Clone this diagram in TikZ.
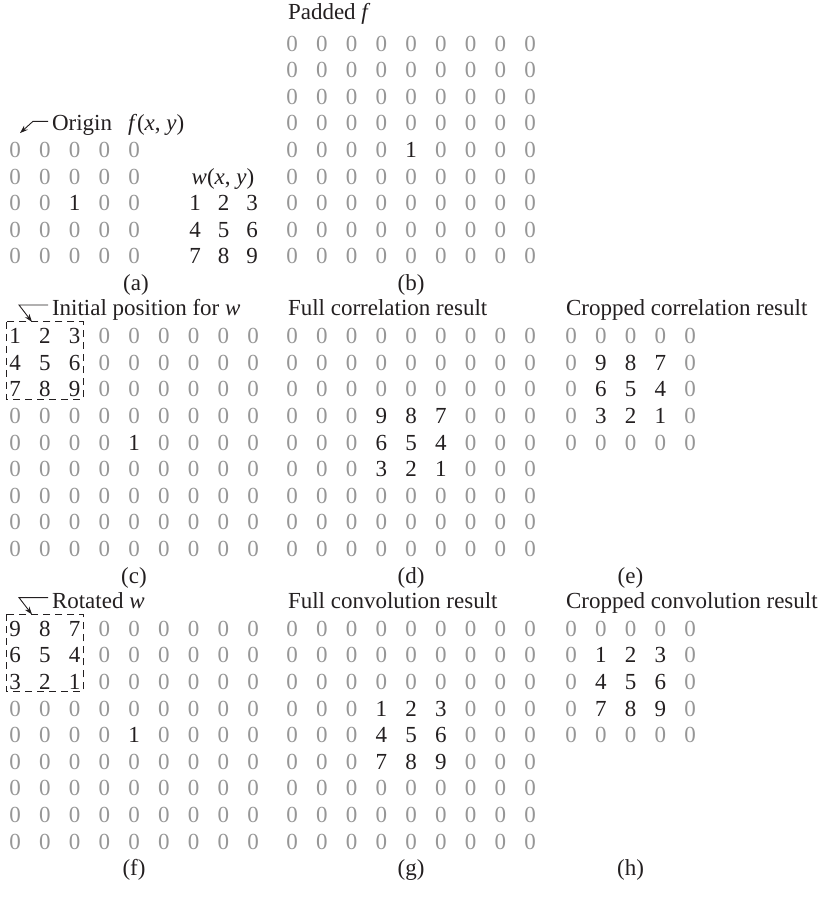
\documentclass[tikz,border=0pt]{standalone}
\usepackage{fontspec}
\setmainfont{Liberation Serif}
\usetikzlibrary{arrows.meta,calc}
\definecolor{zerogray}{RGB}{150,150,150}
\definecolor{ink}{RGB}{35,31,32}
\newcommand{\LY}[1]{(43+26.6*(#1)+8)}
\newcommand{\mrow}[5][29.75]{%
  \foreach \v [count=\c from 0] in {#5}{%
    \ifnum\v=0\relax\def\mycl{zerogray}\else\def\mycl{ink}\fi
    \node[cell,text=\mycl] (#2-\c) at ({#3+\c*#1},{#4}) {\v};
  }}
\begin{document}
\begin{tikzpicture}[x=1bp,y=-1bp,
  every node/.style={inner sep=0pt, outer sep=0pt, font=\fontsize{23bp}{28bp}\selectfont, text=ink},
  cell/.style={anchor=base},
  hdr/.style={anchor=base west},
  capn/.style={anchor=base},
  arr/.style={draw=ink, line width=0.9bp, -{Stealth[length=8bp,width=5.5bp]}},
  dashbox/.style={draw=ink, line width=1bp, dash pattern=on 7bp off 5bp},
]
\useasboundingbox (0,0) rectangle (820,900);

% ---------- (a) ----------
\node[hdr] (origin) at (52,{\LY{3}}) {Origin};
\node[hdr] (fxy) at (128,{\LY{3}}) {\textit{f}(\textit{x}, \textit{y})};
\mrow{a-0}{15}{\LY{4}}{0,0,0,0,0}
\mrow{a-1}{15}{\LY{5}}{0,0,0,0,0}
\mrow{a-2}{15}{\LY{6}}{0,0,1,0,0}
\mrow{a-3}{15}{\LY{7}}{0,0,0,0,0}
\mrow{a-4}{15}{\LY{8}}{0,0,0,0,0}
\node[capn] (wxy) at (223,{\LY{5}}) {\textit{w}(\textit{x}, \textit{y})};
\mrow[28.5]{w-0}{195}{\LY{6}}{1,2,3}
\mrow[28.5]{w-1}{195}{\LY{7}}{4,5,6}
\mrow[28.5]{w-2}{195}{\LY{8}}{7,8,9}
\coordinate (otip) at ($(a-0-0.north)+(5,-9)$);
\draw[arr] ($(origin.base west)+(-4,-9.5)$) -- ++(-15,0) -- (otip);
\node[capn] (capa) at (136,{\LY{9}}) {(a)};

% ---------- (b) ----------
\node[hdr] (padded) at (288,19) {Padded \textit{f}};
\foreach \r in {0,...,8}{
  \ifnum\r=4
    \mrow{b-\r}{292}{\LY{\r}}{0,0,0,0,1,0,0,0,0}
  \else
    \mrow{b-\r}{292}{\LY{\r}}{0,0,0,0,0,0,0,0,0}
  \fi
}
\node[capn] (capb) at (411,{\LY{9}}) {(b)};

% ---------- (c) ----------
\node[hdr] (initw) at (52,{\LY{10}-1.5}) {Initial position for \textit{w}};
\mrow{c-0}{15}{\LY{11}}{1,2,3,0,0,0,0,0,0}
\mrow{c-1}{15}{\LY{12}}{4,5,6,0,0,0,0,0,0}
\mrow{c-2}{15}{\LY{13}}{7,8,9,0,0,0,0,0,0}
\mrow{c-3}{15}{\LY{14}}{0,0,0,0,0,0,0,0,0}
\mrow{c-4}{15}{\LY{15}}{0,0,0,0,1,0,0,0,0}
\mrow{c-5}{15}{\LY{16}}{0,0,0,0,0,0,0,0,0}
\mrow{c-6}{15}{\LY{17}}{0,0,0,0,0,0,0,0,0}
\mrow{c-7}{15}{\LY{18}}{0,0,0,0,0,0,0,0,0}
\mrow{c-8}{15}{\LY{19}}{0,0,0,0,0,0,0,0,0}
\draw[dashbox] ($(c-0-0.north west)+(-3,-6.5)$) rectangle ($(c-2-2.south east)+(3,2)$);
\coordinate (itip) at ($(c-0-0.north)+(17,-6.5)$);
\draw[arr] ($(initw.base west)+(-4,-10.5)$) -- ++(-29,0) -- (itip);
\node[capn] (capc) at (134,{\LY{20}}) {(c)};

% ---------- (d) ----------
\node[hdr] (fullcor) at (288,{\LY{10}-1.5}) {Full correlation result};
\mrow{d-0}{292}{\LY{11}}{0,0,0,0,0,0,0,0,0}
\mrow{d-1}{292}{\LY{12}}{0,0,0,0,0,0,0,0,0}
\mrow{d-2}{292}{\LY{13}}{0,0,0,0,0,0,0,0,0}
\mrow{d-3}{292}{\LY{14}}{0,0,0,9,8,7,0,0,0}
\mrow{d-4}{292}{\LY{15}}{0,0,0,6,5,4,0,0,0}
\mrow{d-5}{292}{\LY{16}}{0,0,0,3,2,1,0,0,0}
\mrow{d-6}{292}{\LY{17}}{0,0,0,0,0,0,0,0,0}
\mrow{d-7}{292}{\LY{18}}{0,0,0,0,0,0,0,0,0}
\mrow{d-8}{292}{\LY{19}}{0,0,0,0,0,0,0,0,0}
\node[capn] (capd) at (411,{\LY{20}}) {(d)};

% ---------- (e) ----------
\node[hdr] (cropcor) at (566,{\LY{10}-1.5}) {Cropped correlation result};
\mrow{e-0}{571}{\LY{11}}{0,0,0,0,0}
\mrow{e-1}{571}{\LY{12}}{0,9,8,7,0}
\mrow{e-2}{571}{\LY{13}}{0,6,5,4,0}
\mrow{e-3}{571}{\LY{14}}{0,3,2,1,0}
\mrow{e-4}{571}{\LY{15}}{0,0,0,0,0}
\node[capn] (cape) at (630.5,{\LY{20}}) {(e)};

% ---------- (f) ----------
\node[hdr] (rotw) at (52,{\LY{21}-1.5}) {Rotated \textit{w}};
\mrow{f-0}{15}{\LY{22}}{9,8,7,0,0,0,0,0,0}
\mrow{f-1}{15}{\LY{23}}{6,5,4,0,0,0,0,0,0}
\mrow{f-2}{15}{\LY{24}}{3,2,1,0,0,0,0,0,0}
\mrow{f-3}{15}{\LY{25}}{0,0,0,0,0,0,0,0,0}
\mrow{f-4}{15}{\LY{26}}{0,0,0,0,1,0,0,0,0}
\mrow{f-5}{15}{\LY{27}}{0,0,0,0,0,0,0,0,0}
\mrow{f-6}{15}{\LY{28}}{0,0,0,0,0,0,0,0,0}
\mrow{f-7}{15}{\LY{29}}{0,0,0,0,0,0,0,0,0}
\mrow{f-8}{15}{\LY{30}}{0,0,0,0,0,0,0,0,0}
\draw[dashbox] ($(f-0-0.north west)+(-3,-6.5)$) rectangle ($(f-2-2.south east)+(3,2)$);
\coordinate (rtip) at ($(f-0-0.north)+(17,-6.5)$);
\draw[arr] ($(rotw.base west)+(-4,-10.5)$) -- ++(-29,0) -- (rtip);
\node[capn] (capf) at (134,{\LY{31}}) {(f)};

% ---------- (g) ----------
\node[hdr] (fullconv) at (288,{\LY{21}-1.5}) {Full convolution result};
\mrow{g-0}{292}{\LY{22}}{0,0,0,0,0,0,0,0,0}
\mrow{g-1}{292}{\LY{23}}{0,0,0,0,0,0,0,0,0}
\mrow{g-2}{292}{\LY{24}}{0,0,0,0,0,0,0,0,0}
\mrow{g-3}{292}{\LY{25}}{0,0,0,1,2,3,0,0,0}
\mrow{g-4}{292}{\LY{26}}{0,0,0,4,5,6,0,0,0}
\mrow{g-5}{292}{\LY{27}}{0,0,0,7,8,9,0,0,0}
\mrow{g-6}{292}{\LY{28}}{0,0,0,0,0,0,0,0,0}
\mrow{g-7}{292}{\LY{29}}{0,0,0,0,0,0,0,0,0}
\mrow{g-8}{292}{\LY{30}}{0,0,0,0,0,0,0,0,0}
\node[capn] (capg) at (411,{\LY{31}}) {(g)};

% ---------- (h) ----------
\node[hdr] (cropconv) at (566,{\LY{21}-1.5}) {Cropped convolution result};
\mrow{h-0}{571}{\LY{22}}{0,0,0,0,0}
\mrow{h-1}{571}{\LY{23}}{0,1,2,3,0}
\mrow{h-2}{571}{\LY{24}}{0,4,5,6,0}
\mrow{h-3}{571}{\LY{25}}{0,7,8,9,0}
\mrow{h-4}{571}{\LY{26}}{0,0,0,0,0}
\node[capn] (caph) at (630.5,{\LY{31}}) {(h)};
\end{tikzpicture}
\end{document}
